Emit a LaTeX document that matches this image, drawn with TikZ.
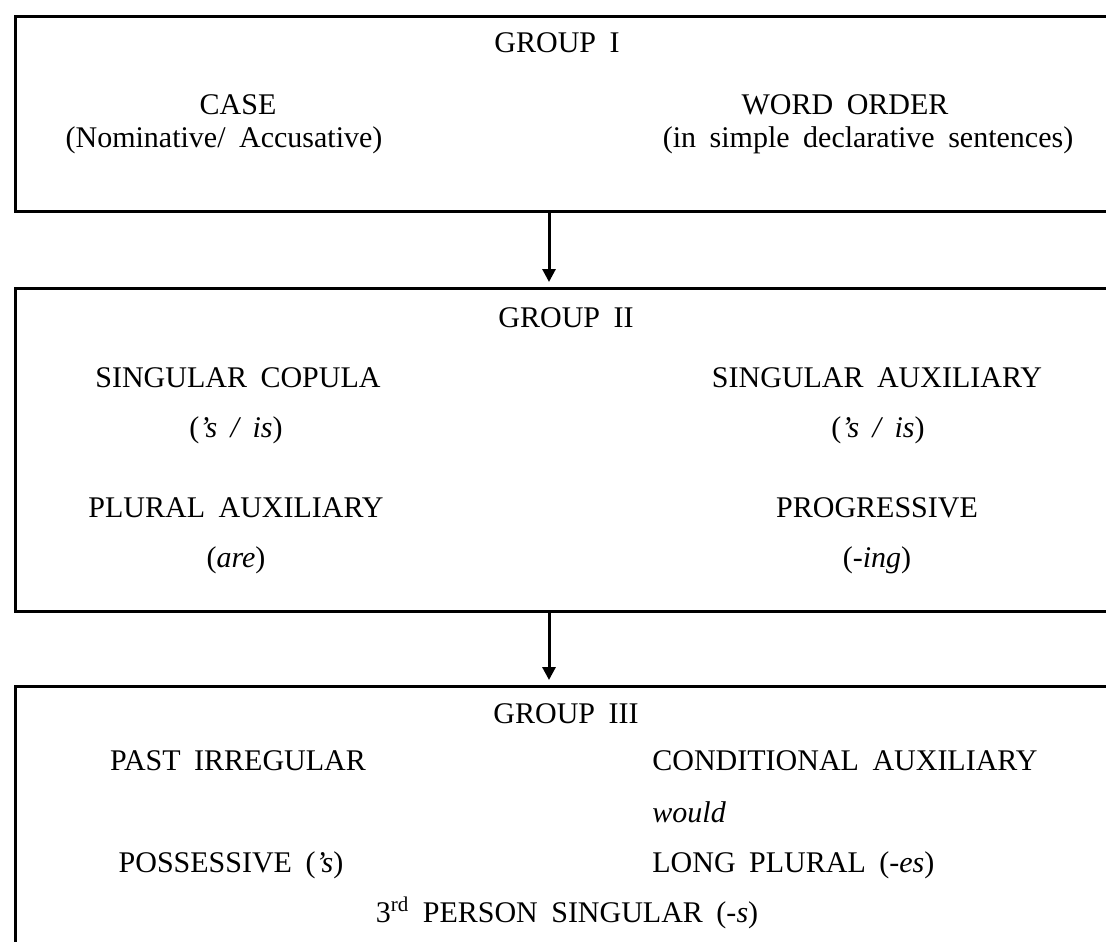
\documentclass[tikz,border=0pt]{standalone}
\usepackage{fontspec}
\setmainfont{Liberation Serif}[WordSpace=1.8]
\usetikzlibrary{arrows.meta}

\tikzset{
    grpbox/.style={draw, line width=1.6pt, anchor=north west, minimum width=560pt, inner sep=0pt},
    lbl/.style={anchor=base, inner sep=0pt, font=\fontsize{15}{18}\selectfont},
    flow/.style={-{Triangle[length=6.5pt,width=6.5pt]}, line width=1.5pt, shorten >=2.5pt},
}

\begin{document}
\begin{tikzpicture}[x=0.5pt, y=-0.5pt]
    \clip (0,0) rectangle (1106,941);
    % the three groups
    \node[grpbox, minimum height=97.5pt] (box1) at (14,15) {};
    \node[grpbox, minimum height=161.5pt] (box2) at (14,287) {};
    \node[grpbox, minimum height=150pt] (box3) at (14,685) {};
    \coordinate (mid) at (549,0);
    \draw[flow] (box1.south -| mid) -- (box2.north -| mid);
    \draw[flow] (box2.south -| mid) -- (box3.north -| mid);

    % group I
    \node[lbl] (grp1) at (557,53) {GROUP I};
    \node[lbl] (case) at (238,115) {CASE};
    \node[lbl] (casesub) at (224,148) {(Nominative/ Accusative)};
    \node[lbl] (order) at (845,115) {WORD ORDER};
    \node[lbl] (ordersub) at (868,148) {(in simple declarative sentences)};

    % group II
    \node[lbl] (grp2) at (566,327) {GROUP II};
    \node[lbl] (sgcop) at (238,387) {SINGULAR COPULA};
    \node[lbl] (sgcopsub) at (236,437) {(\textit{’s / is})};
    \node[lbl] (sgaux) at (877,387) {SINGULAR AUXILIARY};
    \node[lbl] (sgauxsub) at (878,437) {(\textit{’s / is})};
    \node[lbl] (plaux) at (236,517) {PLURAL AUXILIARY};
    \node[lbl] (plauxsub) at (236,567) {(\textit{are})};
    \node[lbl] (prog) at (877,517) {PROGRESSIVE};
    \node[lbl] (progsub) at (877,567) {(-\textit{ing})};

    % group III
    \node[lbl] (grp3) at (566,723) {GROUP III};
    \node[lbl] (pastirr) at (238,770) {PAST IRREGULAR};
    \node[lbl, anchor=base west] (condaux) at (652,770) {CONDITIONAL AUXILIARY};
    \node[lbl, anchor=base west] (would) at (652,822) {\textit{would}};
    \node[lbl] (poss) at (231,872) {POSSESSIVE (\textit{’s})};
    \node[lbl, anchor=base west] (longpl) at (652,872) {LONG PLURAL (-\textit{es})};
    \node[lbl] (third) at (567,922) {3\textsuperscript{rd} PERSON SINGULAR (-\textit{s})};
\end{tikzpicture}
\end{document}
